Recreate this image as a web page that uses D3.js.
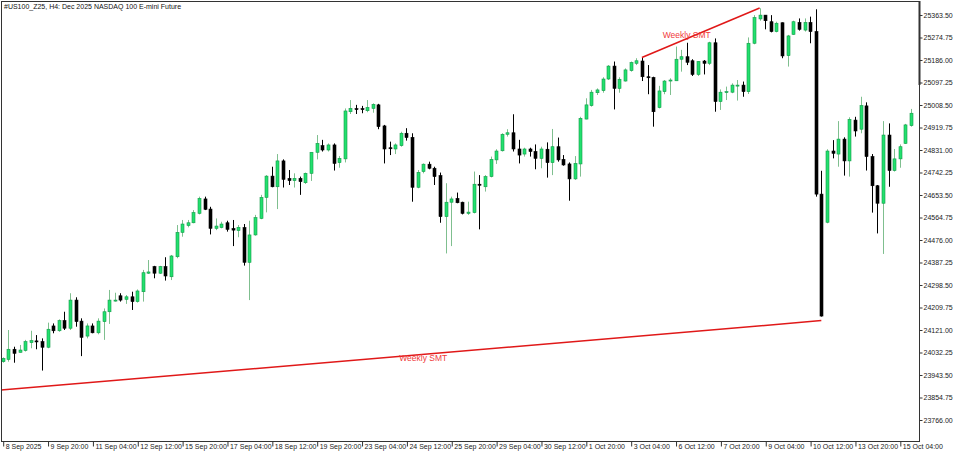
<!DOCTYPE html>
<html><head><meta charset="utf-8">
<script src="https://cdn.jsdelivr.net/npm/d3@7"></script>
<style>body{margin:0;background:#fff}svg{display:block}text{font-family:"Liberation Sans",Arial,sans-serif}</style>
</head><body><svg id="c" width="960" height="457"></svg>
<script>
const title = "#US100_Z25, H4:  Dec 2025 NASDAQ 100 E-mini Future";
const opens = [23996,24005,24045,24033,24040,24071,24078,24075,24053,24137,24118,24158,24128,24239,24156,24097,24137,24110,24154,24193,24235,24256,24242,24252,24233,24272,24345,24371,24345,24371,24331,24410,24506,24533,24544,24581,24638,24598,24522,24525,24544,24521,24513,24525,24388,24496,24561,24644,24728,24686,24788,24719,24710,24719,24702,24739,24822,24848,24831,24851,24781,24796,24982,24994,24994,24986,24995,25009,24926,24840,24835,24848,24897,24881,24684,24746,24775,24759,24730,24568,24625,24640,24625,24581,24584,24696,24686,24726,24792,24828,24893,24899,24835,24815,24835,24825,24798,24834,24781,24844,24794,24776,24717,24776,24953,25006,25057,25065,25111,25162,25074,25103,25144,25173,25182,25120,25117,24998,25061,25103,25104,25189,25199,25183,25129,25182,25173,25254,25022,25059,25059,25083,25087,25061,25252,25348,25363,25337,25298,25333,25203,25287,25334,25304,25334,25298,24657,24546,24827,24815,24874,24788,24949,24913,25005,24805,24690,24621,24890,24750,24796,24857,24927];
const highs = [24013,24121,24055,24062,24082,24118,24101,24088,24150,24147,24163,24193,24266,24250,24167,24147,24147,24167,24206,24279,24268,24266,24259,24272,24281,24358,24397,24374,24374,24408,24417,24535,24555,24555,24594,24647,24647,24607,24561,24548,24552,24555,24535,24539,24552,24575,24654,24732,24765,24815,24794,24752,24739,24726,24742,24822,24890,24871,24857,24857,24807,24995,25028,25009,25005,25028,25015,25013,24930,24864,24857,24903,24917,24897,24752,24778,24785,24765,24742,24700,24647,24663,24627,24627,24746,24732,24732,24805,24834,24897,24913,24972,24871,24840,24840,24853,24844,24861,24914,24880,24811,24782,24807,24962,25035,25068,25074,25118,25166,25180,25118,25153,25180,25193,25197,25166,25120,25084,25107,25114,25239,25226,25254,25189,25182,25186,25258,25271,25070,25081,25094,25107,25101,25275,25363,25390,25363,25363,25337,25334,25285,25341,25350,25350,25357,25386,24749,24834,24870,24945,24881,24960,24962,25041,25019,24815,24693,24945,24936,24835,24853,24934,24993];
const lows = [23992,23996,23992,24032,24036,24049,24045,23961,24049,24108,24114,24121,24121,24134,24018,24088,24108,24104,24082,24145,24233,24233,24224,24200,24229,24233,24342,24325,24342,24316,24318,24404,24489,24526,24542,24577,24594,24498,24515,24522,24509,24452,24487,24375,24239,24493,24558,24585,24684,24598,24683,24693,24683,24654,24697,24709,24794,24825,24825,24750,24761,24782,24973,24973,24976,24980,24978,24913,24778,24811,24815,24844,24868,24627,24680,24739,24755,24693,24544,24423,24452,24621,24577,24575,24581,24518,24667,24723,24776,24825,24884,24825,24778,24805,24805,24755,24759,24722,24732,24785,24769,24631,24713,24726,24952,25002,25048,25057,25107,24991,25057,25101,25140,25166,25103,25051,24923,24995,25051,25048,25103,25140,25166,25123,25123,25129,25166,24982,24989,25028,25055,25026,25041,25052,25248,25341,25307,25295,25295,25193,25160,25285,25302,25298,25252,24647,24174,24542,24798,24765,24730,24726,24884,24897,24750,24584,24502,24421,24686,24746,24761,24855,24923];
const closes = [24009,24045,24029,24042,24075,24079,24074,24053,24124,24118,24158,24128,24239,24154,24092,24137,24110,24156,24193,24239,24239,24239,24252,24233,24275,24347,24350,24345,24371,24334,24413,24506,24539,24544,24584,24640,24597,24522,24531,24539,24518,24515,24526,24388,24496,24564,24644,24728,24686,24788,24715,24710,24719,24706,24739,24822,24857,24831,24851,24778,24798,24985,24995,24991,24990,24999,25011,24923,24835,24836,24851,24897,24880,24684,24743,24775,24759,24726,24568,24625,24638,24623,24581,24586,24696,24692,24726,24794,24827,24893,24899,24835,24811,24835,24825,24798,24835,24781,24844,24792,24772,24717,24778,24956,25009,25059,25068,25111,25162,25074,25110,25147,25176,25183,25120,25116,24982,25064,25103,25107,25189,25199,25177,25129,25180,25173,25254,25022,25059,25061,25087,25087,25061,25252,25353,25363,25341,25298,25331,25202,25281,25337,25307,25334,25298,24657,24176,24827,24818,24874,24788,24952,24906,25006,24805,24690,24621,24890,24750,24796,24844,24930,24976];
const xLabels = ["8 Sep 2025","9 Sep 20:00","11 Sep 04:00","12 Sep 12:00","15 Sep 20:00","17 Sep 04:00","18 Sep 12:00","19 Sep 20:00","23 Sep 04:00","24 Sep 12:00","25 Sep 20:00","29 Sep 04:00","30 Sep 12:00","1 Oct 20:00","3 Oct 04:00","6 Oct 12:00","7 Oct 20:00","9 Oct 04:00","10 Oct 12:00","13 Oct 20:00","15 Oct 04:00"];
const yTicks = [25363.5,25274.75,25186,25097.25,25008.5,24919.75,24831,24742.25,24653.5,24564.75,24476,24387.25,24298.5,24209.75,24121,24032.25,23943.5,23854.75,23766];
const smtLines = [{i0:-0.5,p0:23884,i1:146,p1:24158,label:"Weekly SMT",li:75,lp:23999},
                  {i0:114,p0:25196,i1:135,p1:25391,label:"Weekly SMT",li:122,lp:25273}];

const svg = d3.select("#c");
const L=1,R=919,T=1,B=441;
const x = d3.scaleLinear().domain([0,162]).range([2.7,2.7+162*5.607]);
const y = d3.scaleLinear().domain([25363.5,23766]).range([15,420]);
const data = opens.map((o,i)=>({i,o,h:highs[i],l:lows[i],c:closes[i]}));

const g = svg.append("g");
g.selectAll(".w").data(data).enter().append("line")
 .attr("x1",d=>Math.round(x(d.i))+0.5).attr("x2",d=>Math.round(x(d.i))+0.5)
 .attr("y1",d=>y(d.h)).attr("y2",d=>y(d.l))
 .attr("stroke",d=>d.c>=d.o?"#7fbf8f":"#000").attr("stroke-width",1);
g.selectAll(".b").data(data).enter().append("rect")
 .attr("x",d=>Math.round(x(d.i))-1).attr("width",3)
 .attr("y",d=>y(Math.max(d.o,d.c))).attr("height",d=>Math.max(1,Math.abs(y(d.o)-y(d.c))))
 .attr("fill",d=>d.c>=d.o?"#22e06e":"#000")
 .attr("stroke",d=>d.c>=d.o?"#119a48":"#000").attr("stroke-width",0.6);

smtLines.forEach(s=>{
  svg.append("line").attr("x1",Math.max(L,x(s.i0))).attr("y1",y(s.p0)).attr("x2",x(s.i1)).attr("y2",y(s.p1))
    .attr("stroke","#e01818").attr("stroke-width",1.5);
  svg.append("text").attr("x",x(s.li)).attr("y",y(s.lp)).attr("text-anchor","middle")
    .attr("font-size",8.5).attr("fill","#f03a3a").text(s.label);
});

svg.append("rect").attr("x",L+0.5).attr("y",T+0.5).attr("width",R-L).attr("height",B-T).attr("fill","none").attr("stroke","#333");
svg.append("line").attr("x1",R+0.5).attr("x2",R+0.5).attr("y1",1).attr("y2",85).attr("stroke","#333").attr("stroke-width",2);

const yAxis = d3.axisRight(y).tickValues(yTicks).tickSize(3).tickFormat(d3.format(".2f"));
const ya = svg.append("g").attr("transform",`translate(${R+0.5},0)`).call(yAxis);
ya.select(".domain").remove();
ya.selectAll("text").attr("font-size",7).attr("fill","#222").attr("x",4).style("font-family","'Liberation Sans',Arial,sans-serif");
ya.selectAll("line").attr("stroke","#333");

const xIdx = xLabels.map((_,k)=>k*8);
const xAxis = d3.axisBottom(x).tickValues(xIdx).tickSize(5).tickFormat((d,k)=>xLabels[k]);
const xa = svg.append("g").attr("transform",`translate(0.5,${B+0.5})`).call(xAxis);
xa.select(".domain").remove();
xa.selectAll("text").attr("font-size",7).attr("fill","#222").attr("text-anchor","start").attr("x",2).attr("y",3).style("font-family","'Liberation Sans',Arial,sans-serif");
xa.selectAll("line").attr("stroke","#333");

svg.append("text").attr("x",4).attr("y",9).attr("font-size",7).attr("fill","#111").text(title);
</script></body></html>
